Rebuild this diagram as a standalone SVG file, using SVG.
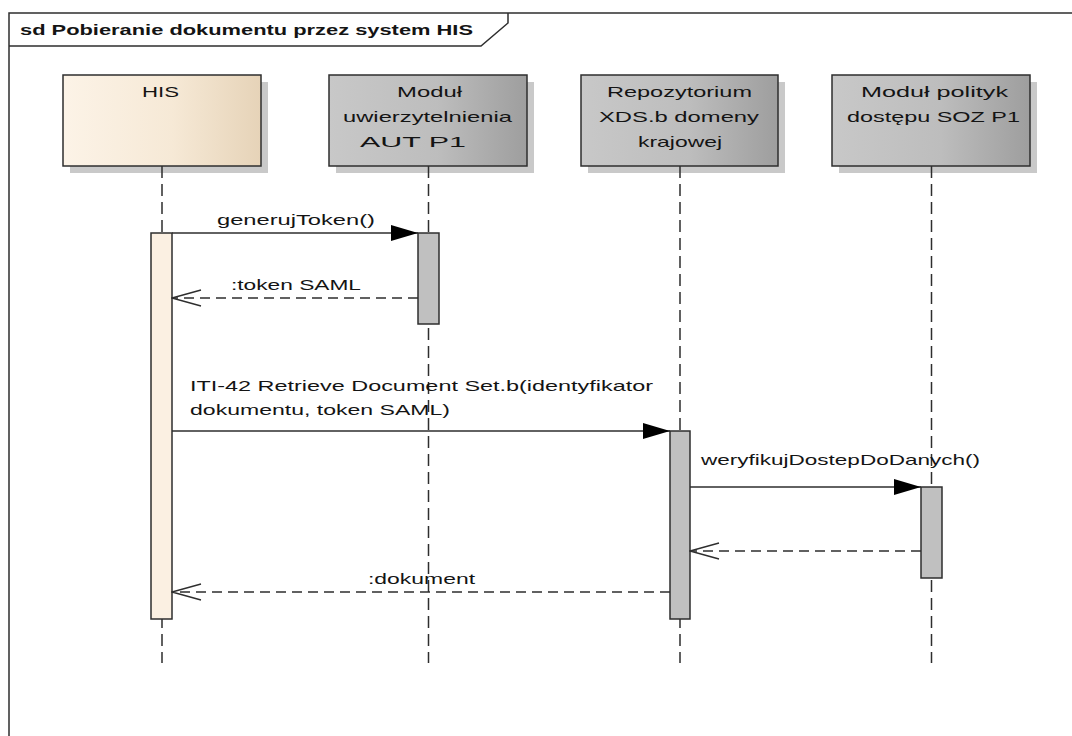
<svg xmlns="http://www.w3.org/2000/svg" width="1072" height="736" viewBox="0 0 1072 736">
<style>
text{font-family:"Liberation Sans",Arial,sans-serif;font-size:15px;fill:#141414}
.title{font-weight:bold}
.mid{text-anchor:middle}
.frame{fill:none;stroke:#2e2e2e;stroke-width:1.5}
.box{stroke:#2e2e2e;stroke-width:1.5}
.shadow{fill:#c9c9c9}
.life{stroke:#2e2e2e;stroke-width:1.5;stroke-dasharray:12 6;fill:none}
.act-his{fill:#fbf0e2;stroke:#2e2e2e;stroke-width:1.5}
.act-g{fill:#c0c0c0;stroke:#2e2e2e;stroke-width:1.5}
.msg{stroke:#2e2e2e;stroke-width:1.5;fill:none;marker-end:url(#filled)}
.ret{stroke:#2e2e2e;stroke-width:1.5;fill:none;stroke-dasharray:10 6;marker-end:url(#open)}
</style>
<defs>
<linearGradient id="gHis" x1="0" y1="0" x2="1" y2="0">
<stop offset="0" stop-color="#fcf3e7"/><stop offset="0.55" stop-color="#f6e9d6"/><stop offset="1" stop-color="#e6d3b8"/>
</linearGradient>
<linearGradient id="gGray" x1="0" y1="0" x2="1" y2="0">
<stop offset="0" stop-color="#c8c8c8"/><stop offset="0.55" stop-color="#bdbdbd"/><stop offset="1" stop-color="#9e9e9e"/>
</linearGradient>
<marker id="filled" markerUnits="userSpaceOnUse" viewBox="0 0 27 16" markerWidth="27" markerHeight="16" refX="27" refY="8" orient="auto">
<path d="M0,0 L27,8 L0,16 Z" fill="#000"/>
</marker>
<marker id="open" markerUnits="userSpaceOnUse" viewBox="-1 -1 31 18" markerWidth="31" markerHeight="18" refX="29" refY="8" orient="auto">
<path d="M0,0 L29,8 L0,16" fill="none" stroke="#2e2e2e" stroke-width="1.4"/>
</marker>
</defs>
<rect width="1072" height="736" fill="#fff"/>
<g id="frame">
<rect class="frame" x="9" y="13" width="1100" height="800"/>
<path class="frame" d="M9,46 L481,46 L508,23 L508,13"/>
<text class="title" x="20" y="35" textLength="453" lengthAdjust="spacingAndGlyphs">sd Pobieranie dokumentu przez system HIS</text>
</g>
<g id="node-his">
<rect class="shadow" x="70" y="82" width="198" height="91"/>
<rect class="box" x="63" y="75" width="198" height="91" fill="url(#gHis)"/>
<text x="142" y="97" textLength="37" lengthAdjust="spacingAndGlyphs">HIS</text>
<line class="life" x1="162" y1="166" x2="162" y2="663"/>
<rect class="act-his" x="151" y="233" width="21" height="386"/>
</g>
<g id="node-aut">
<rect class="shadow" x="336" y="82" width="198" height="91"/>
<rect class="box" x="329" y="75" width="198" height="91" fill="url(#gGray)"/>
<text x="397" y="97" textLength="65" lengthAdjust="spacingAndGlyphs">Moduł</text>
<text x="343" y="122" textLength="169" lengthAdjust="spacingAndGlyphs">uwierzytelnienia</text>
<text x="360" y="147" textLength="106" lengthAdjust="spacingAndGlyphs">AUT P1</text>
<line class="life" x1="428.5" y1="166" x2="428.5" y2="663"/>
<rect class="act-g" x="418" y="233" width="21" height="91"/>
</g>
<g id="node-repo">
<rect class="shadow" x="588" y="82" width="197" height="91"/>
<rect class="box" x="581" y="75" width="197" height="91" fill="url(#gGray)"/>
<text x="607" y="97" textLength="145" lengthAdjust="spacingAndGlyphs">Repozytorium</text>
<text x="599" y="122" textLength="160" lengthAdjust="spacingAndGlyphs">XDS.b domeny</text>
<text x="638" y="147" textLength="84" lengthAdjust="spacingAndGlyphs">krajowej</text>
<line class="life" x1="680" y1="166" x2="680" y2="663"/>
<rect class="act-g" x="670" y="431" width="20" height="188"/>
</g>
<g id="node-soz">
<rect class="shadow" x="839" y="82" width="198" height="91"/>
<rect class="box" x="832" y="75" width="198" height="91" fill="url(#gGray)"/>
<text x="861" y="97" textLength="147" lengthAdjust="spacingAndGlyphs">Moduł polityk</text>
<text x="847" y="122" textLength="173" lengthAdjust="spacingAndGlyphs">dostępu SOZ P1</text>
<line class="life" x1="931.5" y1="166" x2="931.5" y2="663"/>
<rect class="act-g" x="921" y="487" width="21" height="91"/>
</g>
<g id="connectors">
<line class="msg" x1="172" y1="233" x2="418" y2="233"/>
<text x="217" y="225" textLength="158" lengthAdjust="spacingAndGlyphs">generujToken()</text>
<line class="ret" x1="418" y1="298" x2="172" y2="298"/>
<text x="231" y="290" textLength="130" lengthAdjust="spacingAndGlyphs">:token SAML</text>
<line class="msg" x1="172" y1="431" x2="670" y2="431"/>
<text x="190" y="391" textLength="463" lengthAdjust="spacingAndGlyphs">ITI-42 Retrieve Document Set.b(identyfikator</text>
<text x="190" y="415" textLength="260" lengthAdjust="spacingAndGlyphs">dokumentu, token SAML)</text>
<line class="msg" x1="690" y1="487" x2="921" y2="487"/>
<text x="701" y="465" textLength="279" lengthAdjust="spacingAndGlyphs">weryfikujDostepDoDanych()</text>
<line class="ret" x1="921" y1="551" x2="690" y2="551"/>
<line class="ret" x1="670" y1="592" x2="172" y2="592"/>
<text x="368" y="584" textLength="107" lengthAdjust="spacingAndGlyphs">:dokument</text>
</g>
</svg>
